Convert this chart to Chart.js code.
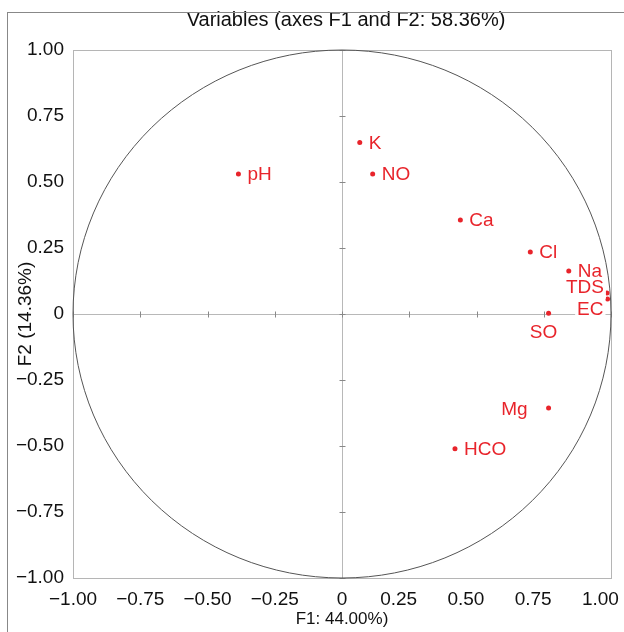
<!DOCTYPE html>
<html>
<head>
<meta charset="utf-8">
<script src="https://cdn.jsdelivr.net/npm/chart.js@4/dist/chart.umd.min.js"></script>
<style>
  html, body { margin: 0; padding: 0; background: #fff; }
  #wrap { position: relative; width: 624px; height: 632px; }
  #frame { position: absolute; left: 7px; top: 12px; width: 640px; height: 640px; border: 1px solid #888; pointer-events: none; }
</style>
</head>
<body>
<div id="wrap">
  <canvas id="pcaChart" width="624" height="632"></canvas>
  <div id="frame"></div>
</div>
<script>
'use strict';

// variables and their loadings on F1 / F2
const variableNames = ['pH', 'K', 'NO', 'Ca', 'Cl', 'Na', 'TDS', 'EC', 'SO', 'Mg', 'HCO']
const f1Values = [-0.385, 0.066, 0.114, 0.44, 0.70, 0.843, 0.985, 0.987, 0.768, 0.768, 0.42]
const f2Values = [0.53, 0.65, 0.53, 0.356, 0.235, 0.163, 0.08, 0.057, 0.003, -0.356, -0.51]

// axis ticks
const tickValues = [-1, -0.75, -0.5, -0.25, 0, 0.25, 0.5, 0.75, 1]

const chartTitle = 'Variables (axes F1 and F2: 58.36%)'

// where each label sits relative to its point
const labelSide = {
  pH: 'right', K: 'right', NO: 'right', Ca: 'right', Cl: 'right', Na: 'right',
  TDS: 'upLeft', EC: 'downLeft', SO: 'below', Mg: 'left', HCO: 'right'
}

const red = '#e8242b'
const fontFamily = '"Liberation Sans", Arial, sans-serif'

// y labels: plain; x labels: positive ones sit a little left of their tick
const formatTick = (v) => {
  if (Math.abs(v) < 1e-9) return '0'
  const s = Math.abs(v).toFixed(2)
  return v < 0 ? '\u2212' + s : s
}
const formatXTick = (v) => (v > 1e-9 ? formatTick(v) + '    ' : formatTick(v))

/**
 * Plugin: title, box, crosshair with ticks and the correlation circle
 */
const circlePlugin = {
  id: 'circlePlugin',
  beforeDatasetsDraw(chart) {
    const { ctx, chartArea, scales } = chart
    const x = scales.x
    const y = scales.y
    ctx.save()

    // title, centred a little right of the plot box
    ctx.font = '20px ' + fontFamily
    ctx.fillStyle = '#111'
    ctx.textAlign = 'center'
    ctx.textBaseline = 'middle'
    ctx.fillText(chartTitle, (chartArea.left + chartArea.right) / 2 + 4, 20)

    // box
    ctx.strokeStyle = '#b5b5b5'
    ctx.lineWidth = 1
    ctx.strokeRect(chartArea.left + 0.5, chartArea.top + 0.5, chartArea.width, chartArea.height)

    // zero lines
    const x0 = Math.round(x.getPixelForValue(0)) + 0.5
    const y0 = Math.round(y.getPixelForValue(0)) + 0.5
    ctx.strokeStyle = '#b8b8b8'
    ctx.beginPath()
    ctx.moveTo(x0, chartArea.top)
    ctx.lineTo(x0, chartArea.bottom)
    ctx.moveTo(chartArea.left, y0)
    ctx.lineTo(chartArea.right, y0)
    ctx.stroke()

    // small ticks on the zero lines
    ctx.strokeStyle = '#888'
    ctx.beginPath()
    tickValues.forEach(t => {
      const px = Math.round(x.getPixelForValue(t)) + 0.5
      ctx.moveTo(px, y0 - 3)
      ctx.lineTo(px, y0 + 3)
      const py = Math.round(y.getPixelForValue(t)) + 0.5
      ctx.moveTo(x0 - 3, py)
      ctx.lineTo(x0 + 3, py)
    })
    ctx.stroke()

    // unit circle
    const cx = x.getPixelForValue(0)
    const cy = y.getPixelForValue(0)
    const rx = x.getPixelForValue(1) - cx
    const ry = cy - y.getPixelForValue(1)
    ctx.strokeStyle = '#555'
    ctx.lineWidth = 1
    ctx.beginPath()
    ctx.ellipse(cx, cy, rx, ry, 0, 0, Math.PI * 2)
    ctx.stroke()

    ctx.restore()
  }
}

/**
 * Plugin: variable labels with a white background
 */
const labelPlugin = {
  id: 'labelPlugin',
  afterDatasetsDraw(chart) {
    const { ctx } = chart
    const meta = chart.getDatasetMeta(0)
    ctx.save()
    ctx.font = '19px ' + fontFamily
    ctx.textBaseline = 'middle'
    meta.data.forEach((pt, i) => {
      const name = variableNames[i]
      const w = ctx.measureText(name).width
      let tx = pt.x + 9
      let ty = pt.y + 1
      switch (labelSide[name]) {
        case 'left':
          tx = pt.x - 21 - w
          ty = pt.y + 2
          break
        case 'upLeft':
          tx = pt.x - 3 - w
          ty = pt.y - 5
          break
        case 'downLeft':
          tx = pt.x - 4 - w
          ty = pt.y + 11
          break
        case 'below':
          tx = pt.x - 5 - w / 2
          ty = pt.y + 20
          break
      }
      ctx.fillStyle = 'rgba(255,255,255,0.95)'
      ctx.fillRect(tx - 2, ty - 11, w + 4, 22)
      ctx.fillStyle = red
      ctx.fillText(name, tx, ty)
    })
    ctx.restore()
  }
}

const tickFont = { family: fontFamily, size: 19 }

const buildConfig = () => ({
  type: 'scatter',
  data: {
    datasets: [{
      data: variableNames.map((n, i) => ({ x: f1Values[i], y: f2Values[i] })),
      backgroundColor: red,
      borderColor: red,
      pointRadius: 2.5,
      pointBorderWidth: 0
    }]
  },
  options: {
    responsive: false,
    animation: false,
    layout: { padding: { left: 8, right: 13, top: 50, bottom: 0 } },
    plugins: {
      legend: { display: false },
      tooltip: { enabled: false },
      title: { display: false }
    },
    scales: {
      x: {
        type: 'linear',
        min: -1,
        max: 1,
        afterBuildTicks: s => { s.ticks = tickValues.map(v => ({ value: v })) },
        afterFit: s => { s.height = 54; s.paddingLeft = 0; s.paddingRight = 0 },
        grid: { display: false, drawTicks: false },
        border: { display: false },
        ticks: {
          color: '#111',
          padding: 10,
          maxRotation: 0,
          autoSkip: false,
          font: tickFont,
          callback: v => formatXTick(v)
        },
        title: {
          display: true,
          text: 'F1: 44.00%)',
          color: '#111',
          padding: { top: 0, bottom: 2 },
          font: { family: fontFamily, size: 17 }
        }
      },
      y: {
        type: 'linear',
        min: -1,
        max: 1,
        afterBuildTicks: s => { s.ticks = tickValues.map(v => ({ value: v })) },
        afterFit: s => { s.width = 65; s.paddingTop = 0; s.paddingBottom = 0 },
        grid: { display: false, drawTicks: false },
        border: { display: false },
        ticks: {
          color: '#111',
          padding: 9,
          font: tickFont,
          callback: v => formatTick(v)
        },
        title: {
          display: true,
          text: 'F2 (14.36%)',
          color: '#111',
          padding: { top: 6, bottom: 0 },
          font: tickFont
        }
      }
    }
  },
  plugins: [circlePlugin, labelPlugin]
})

new Chart(document.getElementById('pcaChart'), buildConfig())
</script>
</body>
</html>
